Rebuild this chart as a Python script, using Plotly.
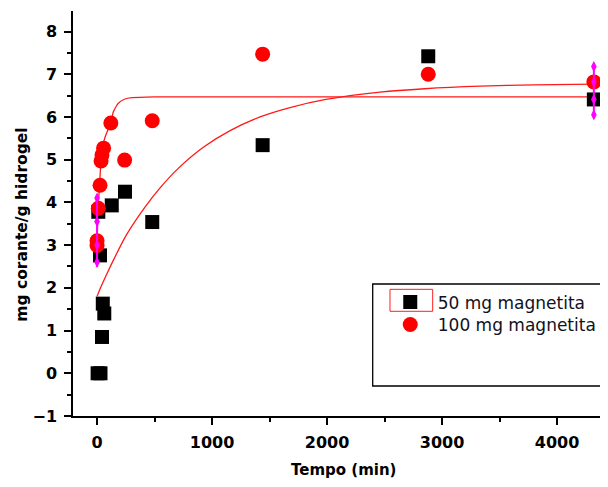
import plotly.graph_objects as go

# --- data ---
t_50 = [5, 30, 43, 63, 50, 26, 11, 128, 243, 480, 1440, 2880, 4320]
q_50 = [0.0, 0.0, 0.85, 1.40, 1.63, 2.76, 3.78, 3.93, 4.25, 3.54, 5.34, 7.42, 6.41]

t_100 = [0, 0, 11, 26, 35, 43, 57, 120, 240, 480, 1440, 2880, 4320]
q_100 = [3.10, 2.99, 3.86, 4.40, 4.97, 5.11, 5.27, 5.86, 4.99, 5.91, 7.47, 7.00, 6.82]

# fitted curves
fit_fast_t = [0, 9, 22, 41, 70, 119, 142, 185, 243, 304, 500, 1000, 2000, 3000, 4320]
fit_fast_q = [2.95, 3.86, 4.40, 5.22, 5.53, 5.86, 6.12, 6.32, 6.42, 6.45, 6.47, 6.47, 6.47, 6.47, 6.47]

fit_slow_t = [0, 40, 84, 150, 258, 417, 548, 704, 924, 1157, 1417, 1678, 1991, 2461, 2848, 3330, 3800, 4320]
fit_slow_q = [1.80, 2.06, 2.32, 2.69, 3.25, 3.89, 4.34, 4.79, 5.29, 5.68, 6.00, 6.22, 6.41, 6.58, 6.66, 6.72, 6.75, 6.77]

# magenta error bars
err_t = [0, 4320]
err_lo = [2.49, 5.98]
err_hi = [4.17, 7.25]
err_marks = [[4.10, 3.55, 3.00, 2.60], [7.18, 6.82, 6.41, 6.05]]

x_ticks = [0, 1000, 2000, 3000, 4000]
y_ticks = [-1, 0, 1, 2, 3, 4, 5, 6, 7, 8]

names = ["50 mg magnetita", "100 mg magnetita"]

fig = go.Figure()

fig.add_trace(go.Scatter(x=fit_slow_t, y=fit_slow_q, mode="lines",
                         line=dict(color="#ff1a1a", width=1.3, shape="spline", smoothing=0.8),
                         showlegend=False, hoverinfo="skip"))
fig.add_trace(go.Scatter(x=fit_fast_t, y=fit_fast_q, mode="lines",
                         line=dict(color="#ff1a1a", width=1.3, shape="spline", smoothing=0.5),
                         showlegend=False, hoverinfo="skip"))

fig.add_trace(go.Scatter(x=t_50, y=q_50, mode="markers", name=names[0], legend="legend",
                         marker=dict(symbol="square", size=14, color="black",
                                     line=dict(width=0))))
fig.add_trace(go.Scatter(x=t_100, y=q_100, mode="markers", name=names[1], legend="legend2",
                         marker=dict(symbol="circle", size=15, color="#ff0000",
                                     line=dict(width=0))))

# error bars
ex, ey = [], []
mx, my = [], []
for t, lo, hi, mk in zip(err_t, err_lo, err_hi, err_marks):
    ex += [t, t, None]
    ey += [lo, hi, None]
    mx += [t] * len(mk)
    my += mk
fig.add_trace(go.Scatter(x=ex, y=ey, mode="lines", line=dict(color="#ff00ff", width=2),
                         showlegend=False, hoverinfo="skip"))
fig.add_trace(go.Scatter(x=mx, y=my, mode="markers",
                         marker=dict(symbol="diamond-tall", size=8, color="#ff00ff"),
                         showlegend=False, hoverinfo="skip"))

tickfont = dict(family="DejaVu Sans", size=16, color="black", weight="bold")

fig.update_xaxes(range=[-209, 4443], tickvals=x_ticks, ticks="outside", ticklen=7,
                 tickwidth=1.5, tickcolor="black", showline=True, linecolor="black",
                 linewidth=1.5, showgrid=False, zeroline=False, tickfont=tickfont,
                 ticklabelstandoff=4,
                 minor=dict(dtick=500, tick0=0, ticks="outside", ticklen=4,
                            tickwidth=1.5, tickcolor="black", showgrid=False))
fig.update_yaxes(range=[-1, 8.48], tickvals=y_ticks, ticks="outside", ticklen=7,
                 tickwidth=1.5, tickcolor="black", showline=True, linecolor="black",
                 linewidth=1.5, showgrid=False, zeroline=False, tickfont=tickfont,
                 ticklabelstandoff=4,
                 minor=dict(dtick=0.5, tick0=0, ticks="outside", ticklen=4,
                            tickwidth=1.5, tickcolor="black", showgrid=False))

legfont = dict(family="DejaVu Sans", size=17, color="#111122")
fig.update_layout(
    width=600, height=471,
    margin=dict(l=65, r=0, t=3, b=63),
    plot_bgcolor="white", paper_bgcolor="white",
    showlegend=True,
    legend=dict(x=0.579, y=0.3249, xanchor="left", yanchor="top",
                bgcolor="rgba(0,0,0,0)", borderwidth=0, itemwidth=45,
                font=legfont, itemclick=False, itemdoubleclick=False),
    legend2=dict(x=0.579, y=0.2691, xanchor="left", yanchor="top",
                 bgcolor="rgba(0,0,0,0)", borderwidth=0, itemwidth=45,
                 font=legfont, itemclick=False, itemdoubleclick=False),
    shapes=[
        dict(type="rect", xref="paper", yref="paper", x0=0.5602, x1=0.9976,
             y0=0.0741, y1=0.3259, line=dict(color="black", width=1.3)),
        dict(type="rect", xref="paper", yref="paper", x0=0.5925, x1=0.6723,
             y0=0.2585, y1=0.3128, line=dict(color="#ff2020", width=1)),
    ],
    annotations=[
        dict(text="mg corante/g hidrogel", xref="paper", yref="paper",
             x=-0.0959, y=0.4716, textangle=-90, showarrow=False,
             xanchor="center", yanchor="middle",
             font=dict(family="DejaVu Sans", size=15.5, color="black", weight="bold")),
        dict(text="Tempo (min)", xref="paper", yref="paper",
             x=0.505, y=-0.134, showarrow=False, xanchor="center", yanchor="middle",
             font=dict(family="DejaVu Sans", size=15, color="black", weight="bold")),
    ],
)

fig.write_html("out.html")
